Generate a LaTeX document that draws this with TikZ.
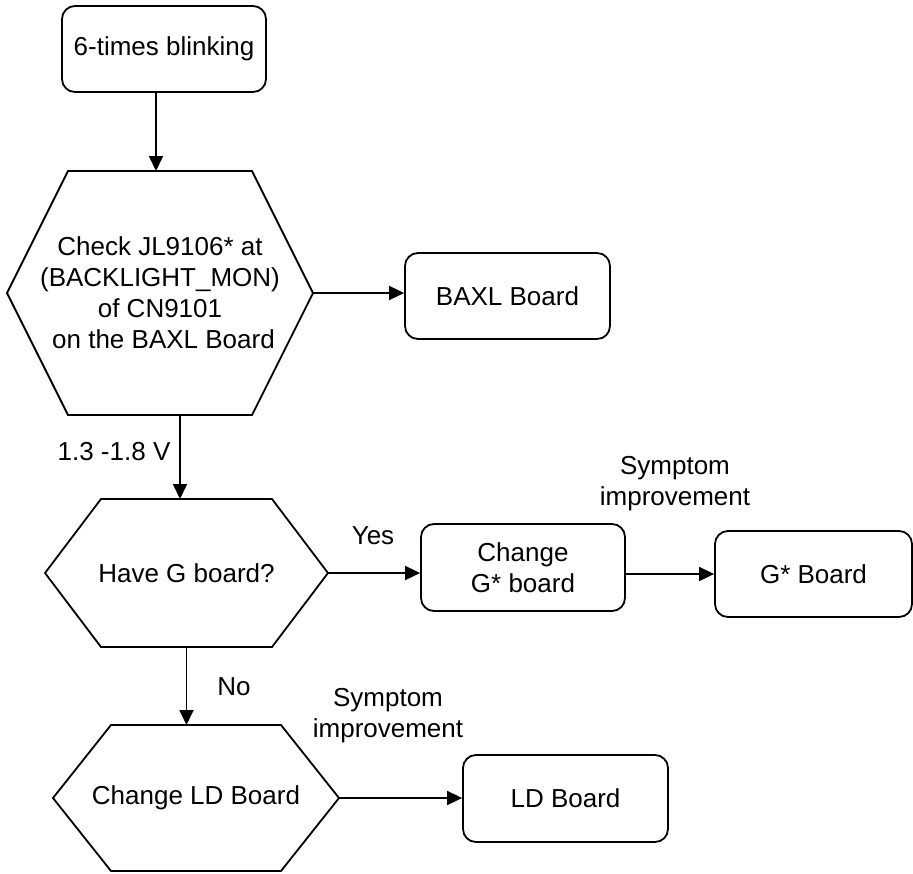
\documentclass[tikz,border=0pt]{standalone}
\usepackage{fontspec}
\setmainfont{Liberation Sans}
\usetikzlibrary{arrows.meta,calc}

% outline of a flat-topped hexagon around a (borderless) rectangular node
\newcommand\drawhex[2]{%
  \draw[hexline] (#1.west) -- ([xshift=#2]#1.north west) -- ([xshift=-#2]#1.north east)
    -- (#1.east) -- ([xshift=-#2]#1.south east) -- ([xshift=#2]#1.south west) -- cycle;}

\begin{document}
\begin{tikzpicture}[x=1pt,y=-1pt,
  every node/.style={font=\fontsize{26}{31}\selectfont},
  board/.style={draw, line width=1.8pt, rounded corners=13pt, align=center,
    inner sep=0pt, minimum width=#1},
  board/.default=205pt,
  hexnode/.style={draw=none, align=center, inner sep=0pt, outer sep=0pt},
  hexline/.style={line width=1.8pt, line join=miter},
  arr/.style={line width=1.8pt, -{Triangle[length=15pt,width=14pt]}},
  lbl/.style={align=center, inner sep=0pt}]

\useasboundingbox (0,0) rectangle (913,873);

% process boxes
\node[board=204pt, minimum height=86pt] (start) at (164,49) {6-times blinking};
\node[board, minimum height=86pt] (baxl) at (507.5,296) {BAXL Board};
\node[board=204pt, minimum height=87pt] (chg) at (523,567.5) {Change\\G* board};
\node[board=197pt, minimum height=86pt] (gb) at (813.5,574) {G* Board};
\node[board, minimum height=87pt] (ld) at (565.5,798.5) {LD Board};

% decision hexagons
\node[hexnode, minimum width=306pt, minimum height=244pt] (h1) at (160,293)
  {Check JL9106* at\\(BACKLIGHT\_MON)\\of CN9101\\\hspace*{7pt}on the BAXL Board};
\drawhex{h1}{61pt}
\node[hexnode, minimum width=283pt, minimum height=148pt] (h2) at (186.5,573)
  {Have G board?};
\drawhex{h2}{56pt}
\node[hexnode, minimum width=286pt, minimum height=146pt] (h3) at (196,798)
  {Change LD Board};
\drawhex{h3}{58pt}

% connectors
\draw[arr] ([xshift=-4pt]h1.north |- start.south) -- ([xshift=-4pt]h1.north);
\draw[arr] (h1.east) -- (h1.east -| baxl.west);
\draw[arr] ([xshift=20pt]h1.south) -- ([xshift=20pt]h1.south |- h2.north);
\draw[arr] (h2.east) -- (h2.east -| chg.west);
\draw[arr] (chg.east |- gb.west) -- (gb.west);
\draw[arr] (h2.south) -- (h2.south |- h3.north);
\draw[arr] (h3.east) -- (h3.east -| ld.west);

% connector labels
\node[lbl] (vlbl) at (114,452) {1.3 -1.8 V};
\node[lbl] (yes) at (373,536) {Yes};
\node[lbl] (no) at (234,687) {No};
\node[lbl] (sym1) at (675,483.5) {Symptom\\improvement};
\node[lbl] (sym2) at (388,716) {Symptom\\improvement};
\end{tikzpicture}
\end{document}
